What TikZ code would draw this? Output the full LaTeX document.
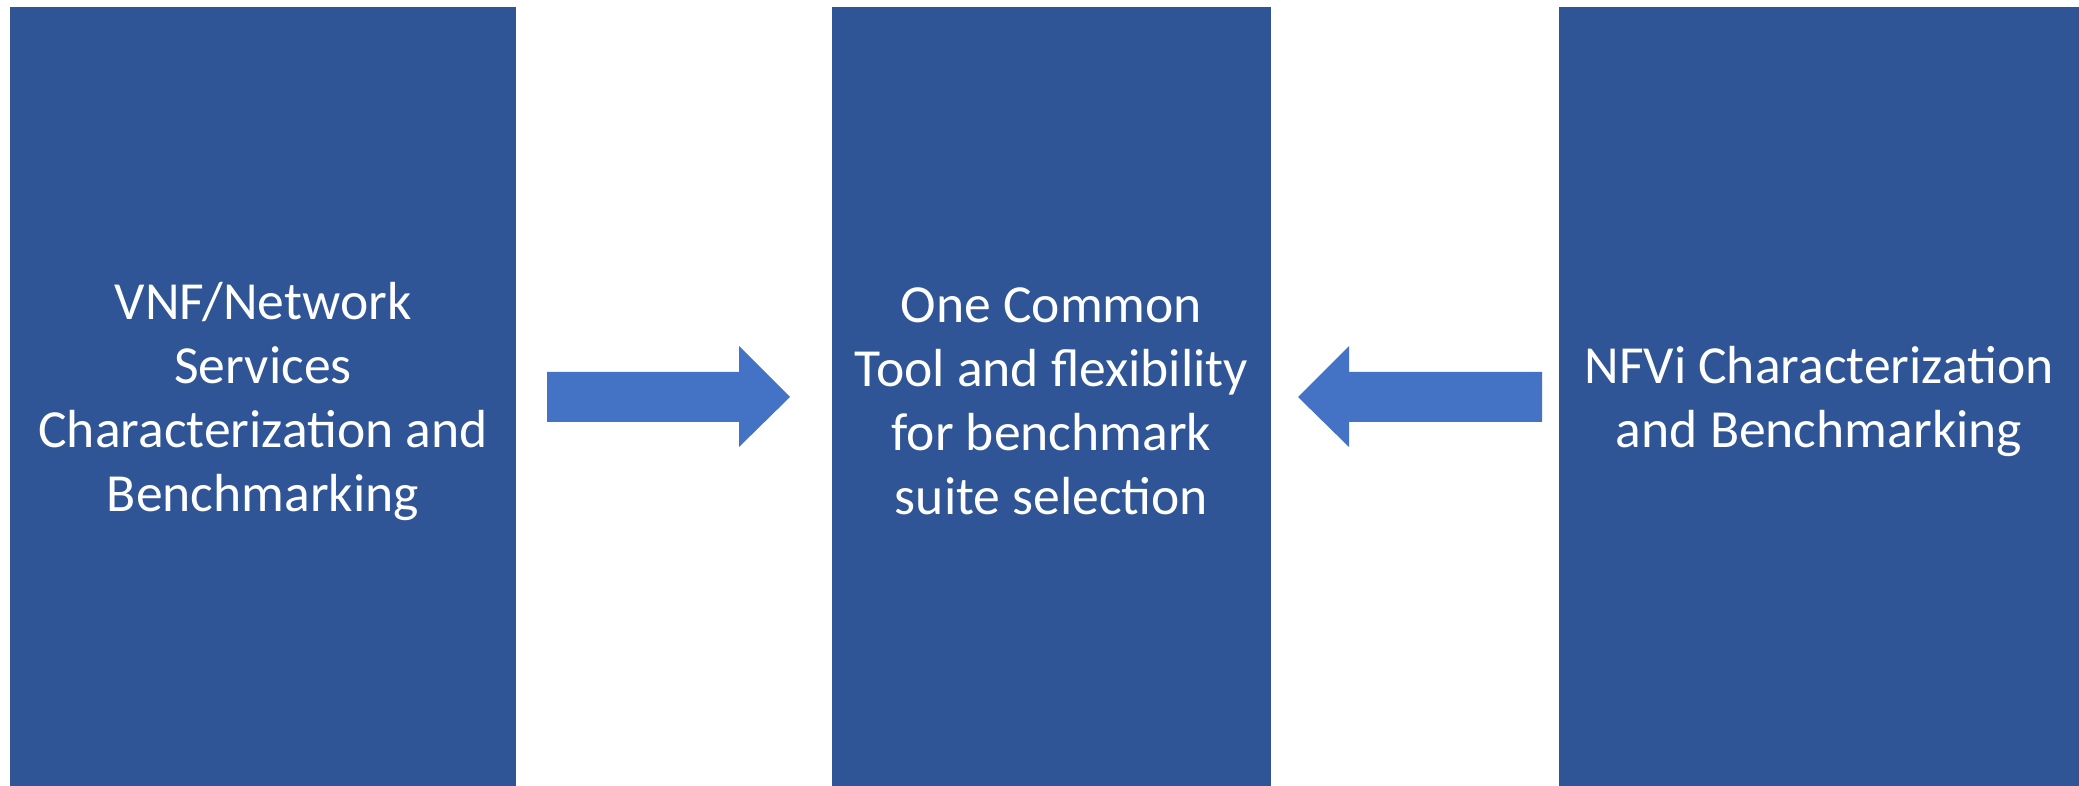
\documentclass[tikz,border=0pt]{standalone}
\usepackage{fontspec}
\setmainfont{Carlito}
\definecolor{boxblue}{HTML}{2F5597}
\definecolor{arrowblue}{HTML}{4472C4}
\begin{document}
\begin{tikzpicture}[x=0.5pt,y=-0.5pt,
  panel/.style={fill=boxblue,draw=none},
  lbl/.style={text=white,align=center,font=\fontsize{26.8}{32}\selectfont,inner sep=0pt},
  bigarrow/.style={fill=arrowblue,draw=none}]
\useasboundingbox (0,0) rectangle (2079,786);
\fill[white] (0,0) rectangle (2079,786);
\path[panel] (10,7) rectangle (516,786);
\path[panel] (832,7) rectangle (1271,786);
\path[panel] (1559,7) rectangle (2079,786);
\node[lbl] (left) at (263,401) {VNF/Network\\Services\\Characterization and\\Benchmarking};
\node[lbl] (mid) at (1051.5,401) {One Common\\Tool and flexibility\\for benchmark\\suite selection};
\node[lbl] (right) at (1819,401) {NFVi Characterization\\and Benchmarking};
\path[bigarrow] (547,372) -- (739,372) -- (739,346) -- (790,397) -- (739,447) -- (739,422) -- (547,422) -- cycle;
\path[bigarrow] (1542,372) -- (1349,372) -- (1349,346) -- (1298,397) -- (1349,447) -- (1349,422) -- (1542,422) -- cycle;
\end{tikzpicture}
\end{document}
